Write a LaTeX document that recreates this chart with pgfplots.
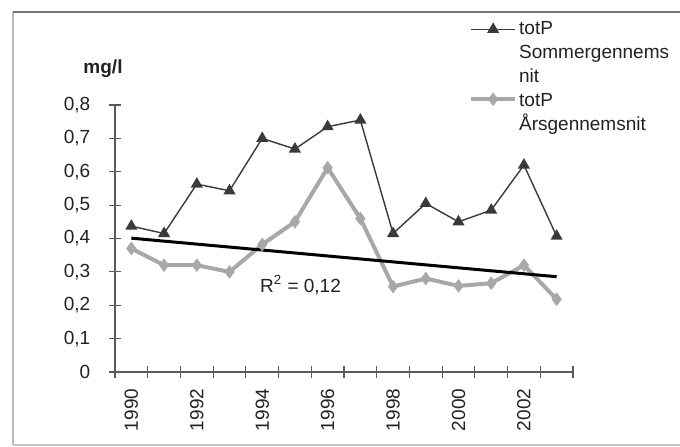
\documentclass[border=0pt]{standalone}
\usepackage{fontspec}
\setmainfont{Liberation Sans}
\usepackage{pgfplots}
\pgfplotsset{compat=1.18}
\definecolor{sumcol}{HTML}{3A3A3A}
\definecolor{aarcol}{HTML}{A8A8A8}
\definecolor{axcol}{HTML}{5A5A5A}
\definecolor{txtcol}{HTML}{222222}
\begin{document}
\begin{tikzpicture}
\fontsize{9.5}{12}\selectfont
\path[use as bounding box] (0,0) rectangle (340pt,223pt);
\fill[white] (0,0) rectangle (340pt,223pt);
\draw[gray!55, line width=0.7pt] (6.5pt,0.6pt) -- (6.5pt,217pt);
\draw[gray!45, line width=0.7pt] (6.5pt,0.6pt) -- (340pt,0.6pt);
\draw[gray!90!black, line width=0.7pt] (6.5pt,217pt) -- (340pt,217pt);
\node[txtcol, font=\fontsize{9.5}{12}\selectfont\bfseries] at (51.5pt,188.5pt) {mg/l};
\begin{axis}[
  scale only axis, width=229pt, height=133.5pt,
  at={(57.5pt,37pt)}, anchor=south west,
  xmin=1989.5, xmax=2003.5, ymin=0, ymax=0.8,
  clip=false,
  axis lines=left,
  axis line style={axcol, line width=0.6pt, -},
  tick style={axcol, line width=0.6pt},
  tick align=center, major tick length=6pt,
  xtick={1989.5,1990.5,...,2003.5}, xticklabels={},
  extra x ticks={1990,1992,1994,1996,1998,2000,2002},
  extra x tick labels={1990,1992,1994,1996,1998,2000,2002},
  extra x tick style={major tick length=0pt, xticklabel style={rotate=90, anchor=east}},
  xticklabel shift=5pt,
  ytick={0,0.1,0.2,0.3,0.4,0.5,0.6,0.7,0.8},
  yticklabel shift=6pt,
  /pgf/number format/assume math mode=true,
  yticklabel style={/pgf/number format/.cd, use comma, fixed, precision=1},
  tick label style={font=\fontsize{9.5}{12}\selectfont, text=txtcol},
  legend style={at={(0.7724,1.322)}, anchor=north west, draw=none, fill=none,
    font=\fontsize{9.5}{12}\selectfont, text=txtcol,
    cells={anchor=west, align=left}, nodes={inner sep=1pt}, inner sep=0pt,
    /tikz/row sep=2pt, /tikz/column sep=0pt},
  legend image code/.code={\draw[mark repeat=2, mark phase=2, #1] plot coordinates {(0pt,0pt) (11pt,0pt) (22pt,0pt)};},
]
\addplot[sumcol, line width=0.7pt, mark=triangle*, mark size=2.8pt, mark options={fill=sumcol, solid},
  legend image post style={yshift=12pt}] coordinates {
 (1990,0.437) (1991,0.415) (1992,0.563) (1993,0.543) (1994,0.700) (1995,0.668) (1996,0.735)
 (1997,0.755) (1998,0.415) (1999,0.505) (2000,0.450) (2001,0.485) (2002,0.620) (2003,0.407)};
\addlegendentry{totP\\Sommergennems\\nit}
\addplot[aarcol, line width=2pt, mark=diamond*, mark size=3pt, mark options={fill=aarcol, line width=0.5pt},
  legend image post style={yshift=7pt}] coordinates {
 (1990,0.370) (1991,0.320) (1992,0.320) (1993,0.300) (1994,0.382) (1995,0.450) (1996,0.612)
 (1997,0.460) (1998,0.256) (1999,0.280) (2000,0.258) (2001,0.266) (2002,0.320) (2003,0.218)};
\addlegendentry{totP\\Årsgennemsnit}
\addplot[black, line width=1.5pt, forget plot] coordinates {(1990,0.401) (2003,0.2855)};
\node[txtcol, font=\fontsize{9.5}{12}\selectfont] at (axis cs:1995.17,0.26) {R\textsuperscript{2} = 0,12};
\end{axis}
\end{tikzpicture}
\end{document}
